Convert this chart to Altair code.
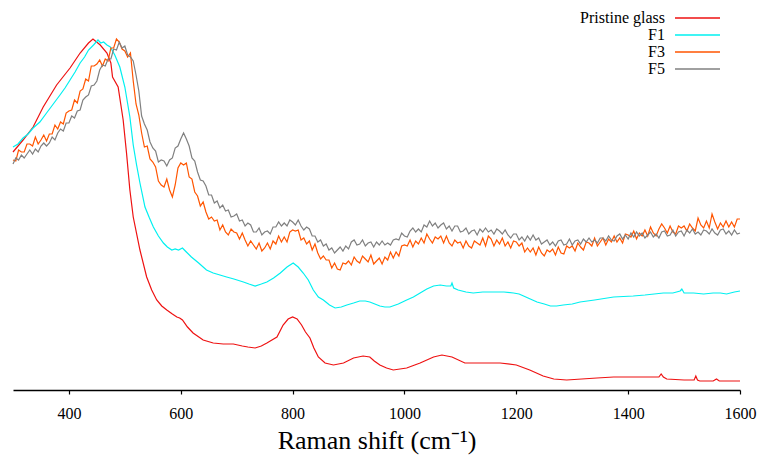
import altair as alt
import pandas as pd

# Sample names and line colours
SERIES = ["Pristine glass", "F1", "F3", "F5"]
COLORS = ["#ee1111", "#00f0f0", "#ff5500", "#808080"]

# Pristine glass spectrum (Raman shift in cm^-1, intensity in arbitrary units)
PRISTINE_SHIFT = [300, 318, 336, 354, 378, 402, 420, 435, 443, 456, 468, 475, 478, 488,
                  497, 503, 509, 515, 527, 539, 548, 557, 566, 575, 585, 593, 598, 603,
                  612, 622, 640, 658, 676, 694, 710, 720, 733, 744, 754, 763, 772, 783,
                  792, 800, 808, 816, 823, 831, 838, 846, 858, 873, 891, 909, 926, 938,
                  946, 956, 968, 980, 1004, 1028, 1052, 1067, 1085, 1108, 1135, 1171,
                  1200, 1224, 1248, 1267, 1290, 1344, 1374, 1400, 1433, 1455, 1459, 1463,
                  1469, 1500, 1518, 1521, 1524, 1528, 1552, 1558, 1563, 1600]
PRISTINE_INT = [238, 250, 263, 283, 305, 322, 337, 347, 351, 345, 337, 327, 313, 303,
                270, 237, 200, 173, 140, 113, 100, 90, 84, 80, 76, 73, 72, 70,
                63, 57, 50, 47, 46, 46, 44, 43, 42, 44, 47, 50, 53, 65,
                71, 73, 71, 65, 58, 52, 42, 33, 27, 25, 27, 32, 34, 33,
                29, 25, 22, 20, 22, 27, 33, 35, 33, 27, 27, 27,
                25, 20, 14, 11, 10, 12, 13, 13, 13, 13, 16, 13,
                11, 10, 10, 14, 10, 9, 9, 11, 9, 9]

# F1 spectrum
F1_SHIFT = [300, 309, 318, 327, 336, 348, 360, 372, 384, 393, 402, 411, 420, 428, 435,
            444, 452, 457, 462, 468, 474, 482, 491, 500, 509, 515, 521, 527, 536, 544,
            551, 560, 569, 576, 584, 590, 596, 603, 610, 619, 632, 646, 658, 670, 682,
            695, 712, 722, 733, 744, 754, 766, 778, 790, 801, 810, 819, 828, 837, 846,
            855, 866, 876, 887, 897, 909, 920, 930, 938, 947, 956, 965, 974, 989, 1004,
            1016, 1028, 1040, 1052, 1064, 1075, 1083, 1085, 1088, 1096, 1110, 1123, 1140,
            1159, 1178, 1195, 1205, 1213, 1225, 1237, 1250, 1261, 1272, 1284, 1300, 1314,
            1340, 1374, 1409, 1430, 1463, 1480, 1493, 1496, 1500, 1517, 1535, 1552, 1565,
            1576, 1590, 1600]
F1_INT = [243, 246, 252, 256, 262, 268, 277, 286, 295, 302, 310, 318, 327, 333, 340,
          345, 350, 347, 348, 345, 343, 335, 323, 303, 273, 245, 225, 207, 183, 172,
          163, 154, 147, 143, 140, 141, 140, 142, 138, 133, 127, 120, 117, 115, 113,
          111, 108, 106, 104, 106, 108, 112, 117, 123, 127, 123, 117, 110, 100, 93,
          90, 85, 82, 83, 85, 87, 89, 89, 88, 86, 84, 83, 83, 86, 90,
          93, 97, 101, 104, 105, 104, 104, 107, 102, 100, 98, 97, 98,
          98, 98, 97, 96, 94, 91, 88, 86, 84, 84, 85, 86, 88,
          90, 93, 94, 95, 97, 97, 99, 101, 97, 97, 96, 97, 97,
          96, 98, 99]

# F3 and F5 spectra share a 5 cm^-1 sampling grid
NOISY_SHIFT = list(range(300, 1601, 5))
F3_INT = [230, 229, 240, 238, 238, 246, 246, 244, 253, 246,
          250, 255, 249, 256, 256, 265, 261, 268, 266, 277,
          279, 280, 290, 287, 299, 301, 311, 309, 324, 324,
          326, 330, 324, 331, 329, 342, 342, 351, 348, 341,
          339, 333, 337, 309, 286, 275, 257, 243, 244, 231,
          228, 223, 209, 205, 203, 211, 200, 193, 205, 222,
          227, 225, 227, 213, 211, 198, 194, 184, 188, 178,
          171, 173, 169, 170, 160, 165, 158, 155, 161, 158,
          157, 151, 157, 150, 144, 149, 145, 141, 147, 139,
          142, 147, 141, 149, 146, 154, 148, 153, 148, 158,
          160, 159, 160, 150, 152, 146, 149, 140, 146, 137,
          131, 134, 130, 130, 122, 127, 121, 120, 127, 126,
          129, 125, 133, 129, 127, 134, 131, 128, 135, 126,
          129, 132, 126, 133, 130, 138, 132, 138, 134, 144,
          145, 144, 150, 143, 149, 146, 152, 147, 156, 151,
          147, 153, 151, 154, 147, 154, 147, 144, 150, 147,
          148, 142, 149, 144, 142, 149, 147, 145, 152, 144,
          154, 151, 144, 150, 146, 152, 144, 148, 142, 149,
          148, 144, 147, 138, 142, 138, 142, 135, 143, 137,
          134, 140, 138, 141, 135, 143, 137, 136, 144, 142,
          144, 139, 147, 143, 140, 148, 147, 144, 152, 144,
          148, 152, 145, 151, 148, 154, 148, 152, 147, 156,
          155, 153, 159, 151, 157, 154, 160, 154, 163, 157,
          154, 161, 166, 162, 157, 164, 158, 156, 164, 162,
          164, 159, 166, 162, 159, 172, 165, 162, 169, 162,
          176, 168, 161, 167, 163, 169, 163, 168, 163, 171,
          171]
F5_INT = [226, 232, 230, 235, 232, 236, 240, 236, 241, 238,
          244, 247, 244, 247, 253, 250, 257, 261, 259, 267,
          267, 274, 272, 279, 280, 290, 293, 295, 304, 305,
          309, 320, 325, 324, 331, 331, 341, 340, 348, 342,
          344, 335, 333, 329, 315, 299, 274, 266, 260, 248,
          242, 239, 228, 230, 229, 224, 230, 232, 242, 244,
          251, 257, 251, 244, 232, 229, 218, 210, 209, 204,
          195, 195, 187, 189, 182, 185, 179, 180, 173, 174,
          176, 169, 170, 164, 167, 165, 158, 158, 162, 155,
          158, 159, 156, 163, 163, 168, 164, 167, 164, 170,
          168, 165, 170, 164, 160, 163, 161, 154, 154, 148,
          150, 144, 146, 140, 142, 137, 140, 143, 139, 144,
          141, 148, 150, 145, 146, 150, 144, 147, 148, 143,
          148, 145, 149, 145, 147, 145, 150, 151, 150, 157,
          154, 153, 159, 162, 158, 161, 158, 165, 163, 169,
          164, 167, 162, 165, 167, 161, 164, 159, 164, 164,
          158, 159, 162, 156, 159, 160, 155, 161, 158, 162,
          158, 160, 156, 161, 159, 156, 160, 155, 152, 156,
          156, 150, 153, 149, 154, 150, 155, 150, 152, 146,
          148, 150, 145, 148, 144, 149, 150, 145, 146, 151,
          145, 149, 150, 146, 151, 148, 152, 148, 150, 147,
          152, 152, 149, 154, 150, 149, 154, 156, 151, 155,
          151, 157, 153, 158, 154, 157, 152, 155, 158, 153,
          156, 152, 158, 159, 154, 155, 160, 154, 158, 159,
          154, 160, 157, 161, 156, 158, 155, 160, 159, 156,
          161, 157, 155, 160, 161, 156, 159, 155, 160, 156,
          157]

TICKS = [400, 600, 800, 1000, 1200, 1400, 1600]

frames = []
for name, xs, ys in [
    ("Pristine glass", PRISTINE_SHIFT, PRISTINE_INT),
    ("F1", F1_SHIFT, F1_INT),
    ("F3", NOISY_SHIFT, F3_INT),
    ("F5", NOISY_SHIFT, F5_INT),
]:
    frames.append(pd.DataFrame({"shift": xs, "intensity": ys, "sample": name}))
data = pd.concat(frames, ignore_index=True)

FONT = "Liberation Serif"

chart = (
    alt.Chart(data)
    .mark_line(strokeWidth=1.2)
    .encode(
        x=alt.X(
            "shift:Q",
            scale=alt.Scale(domain=[300, 1600], nice=False, zero=False),
            axis=alt.Axis(
                values=TICKS,
                format="d",
                title="Raman shift (cm⁻¹)",
                grid=False,
                domainColor="black",
                domainWidth=1.3,
                tickColor="black",
                tickSize=4,
                tickWidth=1.2,
                labelFont=FONT,
                labelFontSize=16,
                labelColor="black",
                labelPadding=11,
                labelFlush=False,
                titleFont=FONT,
                titleFontSize=26,
                titleFontWeight="normal",
                titleColor="black",
                titleBaseline="alphabetic",
                titleY=58,
            ),
        ),
        y=alt.Y(
            "intensity:Q",
            scale=alt.Scale(domain=[0, 380], nice=False),
            axis=None,
        ),
        color=alt.Color(
            "sample:N",
            scale=alt.Scale(domain=SERIES, range=COLORS),
            legend=alt.Legend(
                title=None,
                orient="none",
                legendX=676,
                legendY=-0.5,
                # a long horizontal stroke as the line sample
                symbolType="M-3,0H3",
                symbolSize=225,
                symbolStrokeWidth=1.5,
                symbolFillColor="transparent",
                labelFont=FONT,
                labelFontSize=16,
                labelColor="black",
                labelAlign="right",
                # negative offset puts each label to the left of its line sample
                labelOffset=alt.ExprRef(expr="-41"),
                rowPadding=0,
                padding=0,
            ),
        ),
        detail="sample:N",
    )
    .properties(
        width=727,
        height=380,
        autosize=alt.AutoSizeParams(type="none"),
        padding={"left": 13, "top": 10, "right": 22, "bottom": 66},
        background="white",
    )
    .configure_view(stroke=None)
)

chart.save("out.html", embed_options={"renderer": "svg", "actions": False})
